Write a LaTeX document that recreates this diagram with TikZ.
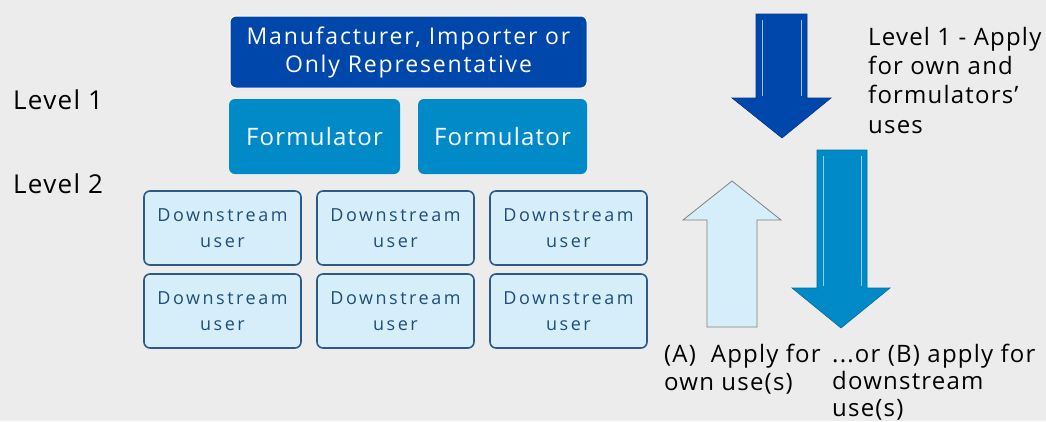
\documentclass[tikz,border=0pt]{standalone}
\usepackage{fontspec}
\setmainfont{Open Sans}
\newfontfamily\labelfont[LetterSpace=5]{Open Sans}
\newfontfamily\mfrfont[LetterSpace=8]{Open Sans}
\newfontfamily\userfont[LetterSpace=14]{Open Sans}
\usetikzlibrary{positioning}

\definecolor{bgrey}{HTML}{ECECEC}
\definecolor{mainblue}{HTML}{0047AB}
\definecolor{formblue}{HTML}{008AC7}
\definecolor{userfill}{HTML}{D6EEF9}
\definecolor{userline}{HTML}{2C5A85}
\definecolor{usertext}{HTML}{1F4E79}

\begin{document}
\begin{tikzpicture}[
            x = 1pt, y = -1pt,
            box/.style = {
                rounded corners = 6pt,
                inner sep = 0pt,
                align = center,
                text = white
            },
            userbox/.style = {
                draw = userline,
                line width = 1.6pt,
                fill = userfill,
                rounded corners = 6pt,
                minimum width = 157pt,
                minimum height = 74pt,
                inner sep = 0pt,
                align = center,
                text = usertext,
                font = \userfont\fontsize{18}{26}\selectfont
            },
            label/.style = {
                anchor = base west,
                align = left,
                inner sep = 0pt,
                font = \labelfont\fontsize{#1}{28}\selectfont
            },
            label/.default = 24
            ]
            \useasboundingbox[fill=bgrey] (0,0) rectangle (1046,421);

            % top of the chain
            \node[box, fill=mainblue, draw=white, line width=1pt,
                minimum width=357pt, minimum height=72pt,
                font=\mfrfont\fontsize{23}{28}\selectfont] (mfr) at (408.5,52)
                {Manufacturer, Importer or\\Only Representative};
            \node[box, fill=formblue, minimum width=171pt, minimum height=75pt,
                font=\labelfont\fontsize{24}{28}\selectfont]
                (form1) at (314.5,136.5) {Formulator};
            \node[box, fill=formblue, minimum width=169pt, minimum height=75pt,
                font=\labelfont\fontsize{24}{28}\selectfont]
                (form2) at (502.5,136.5) {Formulator};

            % downstream users
            \foreach \row/\y in {1/228, 2/311}
                \foreach \col/\x in {1/222.5, 2/395.5, 3/568.5}
                    \node[userbox] (user\row\col) at (\x,\y) {Downstream\\user};

            \node[label=26] (lev1) at (13,109) {Level 1};
            \node[label=26] (lev2) at (13,193) {Level 2};

            % arrows
            \draw[mainblue!80!black, line width=0.6pt, fill=mainblue]
                (756,14) -- (807,14) -- (807,98) -- (831,98) -- (782,138)
                -- (732,98) -- (756,98) -- cycle;
            \draw[mainblue!35!white, line width=1pt] (762,20) -- (762,96);
            \draw[mainblue!35!white, line width=1pt] (801,20) -- (801,96);

            \draw[formblue!80!black, line width=0.6pt, fill=formblue]
                (817,150) -- (867,150) -- (867,288) -- (890,288) -- (841,328)
                -- (792,288) -- (817,288) -- cycle;
            \draw[formblue!40!white, line width=1pt] (823,156) -- (823,286);
            \draw[formblue!40!white, line width=1pt] (861,156) -- (861,286);

            \draw[gray, line width=0.8pt, fill=userfill]
                (707,327) -- (757,327) -- (757,220) -- (781,220) -- (732,181)
                -- (683,220) -- (707,220) -- cycle;

            % multi-line texts: placed by the baseline of their last line
            \node[label, font=\labelfont\fontsize{24}{29.3}\selectfont]
                (txt1) at (868,133) {Level 1 - Apply\\for own and\\formulators’\\uses};
            \node[label] (txtA) at (664,390) {(A)\ \ Apply for\\own use(s)};
            \node[label, font=\labelfont\fontsize{24}{27}\selectfont]
                (txtB) at (832,416) {...or (B) apply for\\downstream\\use(s)};
        \end{tikzpicture}
\end{document}
